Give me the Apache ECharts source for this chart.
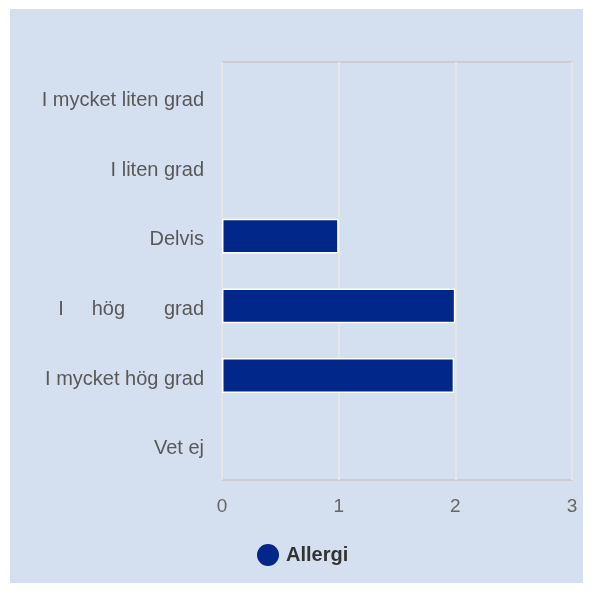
<!DOCTYPE html>
<html>
<head>
<meta charset="utf-8">
<script src="https://cdn.jsdelivr.net/npm/echarts@6/dist/echarts.min.js"></script>
<style>
  html, body { margin: 0; padding: 0; background: #fff; }
  #chart { position: absolute; left: 10px; top: 9px; width: 573px; height: 574px; background: #D4DFF0; }
</style>
</head>
<body>
<div id="chart"></div>
<script>
// kategorier (uppifrån och ned)
const categories = ['I mycket liten grad', 'I liten grad', 'Delvis', 'I     hög       grad', 'I mycket hög grad', 'Vet ej']
const allergiValues = [0, 0, 1, 2, 1.99, 0]
const xTicks = [0, 1, 2, 3]

const chart = echarts.init(document.getElementById('chart'))

// nollvärden ritas utan vit kant
const barData = allergiValues.map(v => ({
  value: v,
  itemStyle: { borderWidth: v === 0 ? 0 : 1.5 }
}))

chart.setOption({
  backgroundColor: '#D4DFF0',
  animation: false,
  textStyle: { fontFamily: 'Liberation Sans, Arial, sans-serif' },
  grid: {
    left: 212,
    top: 53,
    right: 11,
    bottom: 103,
    show: true,
    borderColor: '#C8C8C8',
    borderWidth: 1.5
  },
  legend: {
    data: ['Allergi'],
    left: 242,
    top: 530,
    icon: 'circle',
    itemWidth: 22,
    itemHeight: 22,
    itemGap: 6,
    itemStyle: { borderWidth: 0 },
    textStyle: { fontSize: 20, fontWeight: 'bold', color: '#333', padding: [0, 0, 0, 2] }
  },
  xAxis: {
    type: 'value',
    min: xTicks[0],
    max: xTicks[xTicks.length - 1],
    interval: 1,
    axisLine: { show: false },
    axisTick: { show: false },
    axisLabel: { fontSize: 19, color: '#666', margin: 17 },
    splitLine: { lineStyle: { color: '#E6E6E6', width: 2 } }
  },
  yAxis: {
    type: 'category',
    inverse: true,
    data: categories,
    axisLine: { show: false },
    axisTick: { show: false },
    axisLabel: {
      margin: 18,
      formatter: '{a|{value}}',
      rich: {
        a: { fontSize: 20, color: '#595959', padding: [7, 0, 0, 0] }
      }
    }
  },
  series: [{
    name: 'Allergi',
    type: 'bar',
    data: barData,
    barWidth: '50%',
    itemStyle: { color: '#002789', borderColor: '#fff', borderWidth: 1.5 }
  }]
})
</script>
</body>
</html>
